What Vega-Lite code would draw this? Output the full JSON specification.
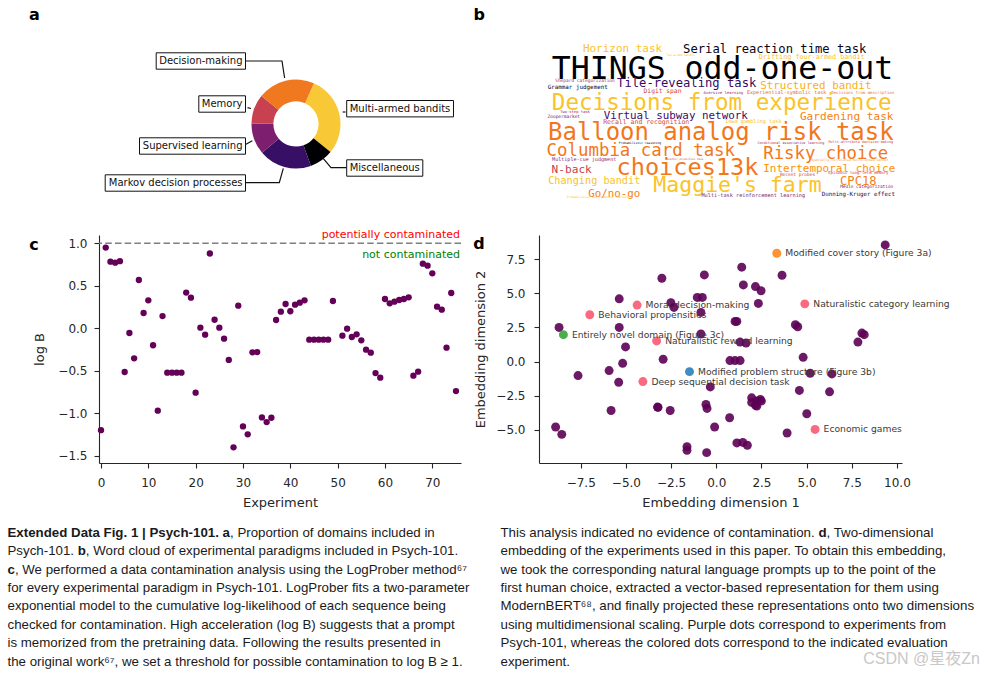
{
"$schema": "https://vega.github.io/schema/vega-lite/v6.json",
"padding": 0,
"background": "white",
"config": {
  "view": {"stroke": null, "fill": "white"},
  "font": "DejaVu Sans",
  "axis": {"labelFont": "DejaVu Sans", "labelFontSize": 12, "labelColor": "#262626", "titleFont": "DejaVu Sans", "titleFontSize": 13, "titleFontWeight": "normal", "titleColor": "#262626", "domainColor": "#262626", "tickColor": "#262626", "tickSize": 5, "domainWidth": 1.1, "tickWidth": 1.1, "grid": false, "labelFlush": false, "labelOverlap": false},
  "title": {"anchor": "start", "frame": "group", "font": "DejaVu Sans", "fontSize": 16, "fontWeight": "bold", "color": "#000000", "offset": 0, "baseline": "alphabetic"}
},
"columns": 3,
"bounds": "flush",
"spacing": {"row": 57, "column": 78},
"concat": [
  {
    "width": 1, "height": 1,
    "data": {"values": [{}]},
    "mark": {"type": "text", "text": "", "baseline": "top", "fontSize": 1}
  },
  {
    "width": 362, "height": 178,
    "title": {"text": "a", "dx": -70, "dy": 26.8},
    "layer": [
      {
        "data": {"values": [
          {"domain": "Multi-armed bandits", "share": 29.3, "k": 1},
          {"domain": "Miscellaneous", "share": 8.7, "k": 2},
          {"domain": "Markov decision processes", "share": 19.2, "k": 3},
          {"domain": "Supervised learning", "share": 11.4, "k": 4},
          {"domain": "Memory", "share": 10.6, "k": 5},
          {"domain": "Decision-making", "share": 20.8, "k": 6}
        ]},
        "mark": {"type": "arc", "outerRadius": 44.5, "innerRadius": 22.6},
        "encoding": {
          "x": {"datum": 0, "type": "quantitative", "scale": {"domain": [-4.427, 3.7079], "nice": false, "zero": false}, "axis": null},
          "y": {"datum": 0, "type": "quantitative", "scale": {"domain": [-1.2135, 2.7865], "nice": false, "zero": false}, "axis": null},
          "theta": {"field": "share", "type": "quantitative", "stack": true, "scale": {"range": [0.4136, 6.6968]}},
          "order": {"field": "k", "type": "quantitative"},
          "color": {"field": "domain", "type": "nominal", "legend": null, "scale": {"domain": ["Multi-armed bandits", "Decision-making", "Memory", "Supervised learning", "Markov decision processes", "Miscellaneous"], "range": ["#f8c837", "#f0781e", "#c84150", "#7d1e6e", "#370f64", "#000004"]}}
        }
      },
      {
        "data": {"values": [
          {"c": "DM", "i": 0, "px": -1.1348, "py": 1.4157},
          {"c": "DM", "i": 1, "px": -0.3146, "py": 1.4157},
          {"c": "DM", "i": 2, "px": -0.2562, "py": 1.0337},
          {"c": "ME", "i": 0, "px": -1.0899, "py": 0.3663},
          {"c": "ME", "i": 1, "px": -1.0112, "py": 0.3483},
          {"c": "MAB", "i": 0, "px": 1.0494, "py": 0.2697},
          {"c": "MAB", "i": 1, "px": 1.1124, "py": 0.2697},
          {"c": "SL", "i": 0, "px": -1.1236, "py": -0.4562},
          {"c": "SL", "i": 1, "px": -0.982, "py": -0.3753},
          {"c": "MDP", "i": 0, "px": -1.1348, "py": -1.3191},
          {"c": "MDP", "i": 1, "px": -0.3753, "py": -1.3191},
          {"c": "MDP", "i": 2, "px": -0.2854, "py": -0.9955},
          {"c": "MI", "i": 0, "px": 1.1393, "py": -0.982},
          {"c": "MI", "i": 1, "px": 0.7865, "py": -0.982},
          {"c": "MI", "i": 2, "px": 0.5775, "py": -0.7348}
        ]},
        "mark": {"type": "line", "color": "#111111", "strokeWidth": 1.2},
        "encoding": {
          "x": {"field": "px", "type": "quantitative", "scale": {"domain": [-4.427, 3.7079], "nice": false, "zero": false}, "axis": null},
          "y": {"field": "py", "type": "quantitative", "scale": {"domain": [-1.2135, 2.7865], "nice": false, "zero": false}, "axis": null},
          "detail": {"field": "c", "type": "nominal"},
          "order": {"field": "i", "type": "quantitative"}
        }
      },
      {
        "data": {"name": "labels", "values": [
          {"domain": "Decision-making", "side": "L", "lx": -1.1348, "ly": 1.4157},
          {"domain": "Memory", "side": "L", "lx": -1.1348, "ly": 0.4494},
          {"domain": "Supervised learning", "side": "L", "lx": -1.1348, "ly": -0.4944},
          {"domain": "Markov decision processes", "side": "L", "lx": -1.1348, "ly": -1.3258},
          {"domain": "Multi-armed bandits", "side": "R", "lx": 1.1393, "ly": 0.3438},
          {"domain": "Miscellaneous", "side": "R", "lx": 1.1393, "ly": -0.9888}
        ]},
        "layer": [
          {
            "mark": {"type": "point", "size": 4, "fill": "white", "stroke": "#111111", "strokeWidth": 1, "opacity": 1, "filled": false, "fillOpacity": 1},
            "encoding": {
              "x": {"field": "lx", "type": "quantitative", "scale": {"domain": [-4.427, 3.7079], "nice": false, "zero": false}, "axis": null},
              "y": {"field": "ly", "type": "quantitative", "scale": {"domain": [-1.2135, 2.7865], "nice": false, "zero": false}, "axis": null},
              "shape": {"field": "domain", "type": "nominal", "legend": null, "scale": {
                "domain": ["Decision-making", "Memory", "Supervised learning", "Markov decision processes", "Multi-armed bandits", "Miscellaneous"],
                "range": ["M-89.3,-8.2H0V8.2H-89.3Z", "M-46.7,-8.2H0V8.2H-46.7Z", "M-106,-8.2H0V8.2H-106Z", "M-140.3,-8.2H0V8.2H-140.3Z", "M0,-8.2H106.8V8.2H0Z", "M0,-8.2H76.1V8.2H0Z"]}}
            }
          },
          {
            "transform": [{"filter": "datum.side === 'L'"}],
            "mark": {"type": "text", "align": "right", "baseline": "middle", "dx": -3, "fontSize": 10, "font": "DejaVu Sans", "color": "#111111"},
            "encoding": {
              "x": {"field": "lx", "type": "quantitative", "scale": {"domain": [-4.427, 3.7079], "nice": false, "zero": false}, "axis": null},
              "y": {"field": "ly", "type": "quantitative", "scale": {"domain": [-1.2135, 2.7865], "nice": false, "zero": false}, "axis": null},
              "text": {"field": "domain"}
            }
          },
          {
            "transform": [{"filter": "datum.side === 'R'"}],
            "mark": {"type": "text", "align": "left", "baseline": "middle", "dx": 3, "fontSize": 10, "font": "DejaVu Sans", "color": "#111111"},
            "encoding": {
              "x": {"field": "lx", "type": "quantitative", "scale": {"domain": [-4.427, 3.7079], "nice": false, "zero": false}, "axis": null},
              "y": {"field": "ly", "type": "quantitative", "scale": {"domain": [-1.2135, 2.7865], "nice": false, "zero": false}, "axis": null},
              "text": {"field": "domain"}
            }
          }
        ]
      }
    ]
  },
  {
    "width": 363, "height": 178,
    "title": {"text": "b", "dx": -65.5, "dy": 26.8},
    "data": {"values": [
      {"w": "THINGS odd-one-out", "x": 397.8, "y": 91.9, "s": 70.6, "t": 0.0},
      {"w": "Horizon task", "x": 173.7, "y": 30.7, "s": 24.6, "t": 0.86},
      {"w": "Serial reaction time task", "x": 514.7, "y": 34.3, "s": 27.3, "t": 0.04},
      {"w": "Two-armed bandit", "x": 304.1, "y": 40.3, "s": 6.7, "t": 0.85},
      {"w": "Drifting four-armed bandit", "x": 597.6, "y": 47.1, "s": 15.2, "t": 0.86},
      {"w": "Shepard categorization", "x": 89.6, "y": 97.9, "s": 10.1, "t": 0.45},
      {"w": "Tile-revealing task", "x": 317.5, "y": 110.5, "s": 27.3, "t": 0.18},
      {"w": "Structured bandit", "x": 606.8, "y": 115, "s": 24.4, "t": 0.82},
      {"w": "Grammar judgement", "x": 73.3, "y": 115, "s": 13.2, "t": 0.05},
      {"w": "Digit span", "x": 263.3, "y": 123.9, "s": 14.1, "t": 0.56},
      {"w": "Aversive learning", "x": 399.6, "y": 125.5, "s": 8.7, "t": 0.4},
      {"w": "Experiential-symbolic task", "x": 541.6, "y": 126.2, "s": 11.4, "t": 0.64},
      {"w": "Decisions from description", "x": 712.2, "y": 126.2, "s": 9, "t": 0.68},
      {"w": "Decisions from experience", "x": 396, "y": 161.3, "s": 50.6, "t": 0.86},
      {"w": "Two-step task", "x": 67.2, "y": 167.4, "s": 8.5, "t": 0.4},
      {"w": "Zoopermarket", "x": 42.1, "y": 179.9, "s": 10.1, "t": 0.3},
      {"w": "Virtual subway network", "x": 293.1, "y": 181.5, "s": 24.4, "t": 0.2},
      {"w": "Gardening task", "x": 676.1, "y": 183.8, "s": 24.9, "t": 0.72},
      {"w": "Recall and recognition", "x": 226.8, "y": 192.7, "s": 14.6, "t": 0.58},
      {"w": "Iowa gambling task", "x": 466.8, "y": 191.2, "s": 11.7, "t": 0.85},
      {"w": "Balloon analog risk task", "x": 394, "y": 228.6, "s": 53.6, "t": 0.7},
      {"w": "Probabilistic reasoning", "x": 212.9, "y": 237.5, "s": 6.9, "t": 0.05},
      {"w": "Conditional associative learning", "x": 550.8, "y": 237.5, "s": 7.8, "t": 0.45},
      {"w": "Multi-attribute decision-making", "x": 707.7, "y": 236, "s": 7.8, "t": 0.55},
      {"w": "Columbia card task", "x": 214.7, "y": 264.4, "s": 39, "t": 0.7},
      {"w": "Risky choice", "x": 629.2, "y": 271.8, "s": 38.8, "t": 0.7},
      {"w": "Multiple-cue judgment", "x": 87.8, "y": 275, "s": 11.4, "t": 0.4},
      {"w": "Weather prediction task", "x": 313.7, "y": 273.4, "s": 6, "t": 0.55},
      {"w": "Spatially correlated multi-armed bandit", "x": 683.5, "y": 276.3, "s": 7.4, "t": 0.8},
      {"w": "choices13k", "x": 319.3, "y": 307, "s": 52.9, "t": 0.7},
      {"w": "N-back", "x": 59.8, "y": 301.8, "s": 24.9, "t": 0.54},
      {"w": "Intertemporal choice", "x": 636.9, "y": 299.6, "s": 24.6, "t": 0.76},
      {"w": "Recent probes", "x": 565.8, "y": 308.6, "s": 10.1, "t": 0.55},
      {"w": "Episodic long-term memory", "x": 702.1, "y": 305.4, "s": 9, "t": 0.55},
      {"w": "Changing bandit", "x": 110.3, "y": 327.8, "s": 22.9, "t": 0.86},
      {"w": "Maggie's farm", "x": 431.4, "y": 344.4, "s": 48.2, "t": 0.86},
      {"w": "CPC18", "x": 702.1, "y": 329.4, "s": 27.3, "t": 0.72},
      {"w": "Medin categorization", "x": 720.9, "y": 336.8, "s": 9.9, "t": 0.35},
      {"w": "Go/no-go", "x": 155.1, "y": 355.6, "s": 24.2, "t": 0.72},
      {"w": "Multi-task reinforcement learning", "x": 466.8, "y": 357, "s": 11.7, "t": 0.33},
      {"w": "Dunning-Kruger effect", "x": 702.1, "y": 353.4, "s": 13, "t": 0.1},
      {"w": "Probabilistic instrumental learning", "x": 119.4, "y": 358.5, "s": 6.7, "t": 0.85}
    ]},
    "mark": {"type": "text", "font": "DejaVu Sans Mono", "align": "center", "baseline": "alphabetic"},
    "encoding": {
      "x": {"field": "x", "type": "quantitative", "scale": {"domain": [-13.445, 800], "nice": false, "zero": false}, "axis": null},
      "y": {"field": "y", "type": "quantitative", "scale": {"domain": [-85.2, 313.7], "reverse": true, "nice": false, "zero": false}, "axis": null},
      "text": {"field": "w"},
      "size": {"field": "s", "type": "quantitative", "legend": null, "scale": {"domain": [0, 100], "range": [0, 44.625]}},
      "color": {"field": "t", "type": "quantitative", "legend": null, "scale": {"scheme": "inferno", "domain": [0, 1]}}
    }
  },
  {
    "width": 21, "height": 228,
    "data": {"values": [{}]},
    "mark": {"type": "text", "text": "", "baseline": "top", "fontSize": 1}
  },
  {
    "width": 362, "height": 228,
    "title": {"text": "c", "dx": -69.7, "dy": 28.4},
    "layer": [
      {
        "data": {"values": [
          {"exp": 0, "logB": -1.2}, {"exp": 1, "logB": 0.95}, {"exp": 2, "logB": 0.784}, {"exp": 3, "logB": 0.772}, {"exp": 4, "logB": 0.79},
          {"exp": 5, "logB": -0.515}, {"exp": 6, "logB": -0.056}, {"exp": 7, "logB": -0.354}, {"exp": 8, "logB": 0.568}, {"exp": 9, "logB": 0.18},
          {"exp": 10, "logB": 0.329}, {"exp": 11, "logB": -0.2}, {"exp": 12, "logB": -0.97}, {"exp": 13, "logB": 0.144}, {"exp": 14, "logB": -0.523},
          {"exp": 15, "logB": -0.523}, {"exp": 16, "logB": -0.523}, {"exp": 17, "logB": -0.523}, {"exp": 18, "logB": 0.42}, {"exp": 19, "logB": 0.36},
          {"exp": 20, "logB": -0.758}, {"exp": 21, "logB": 0.007}, {"exp": 22, "logB": -0.075}, {"exp": 23, "logB": 0.88}, {"exp": 24, "logB": 0.1},
          {"exp": 25, "logB": 0.007}, {"exp": 26, "logB": -0.122}, {"exp": 27, "logB": -0.373}, {"exp": 28, "logB": -1.402}, {"exp": 29, "logB": 0.266},
          {"exp": 30, "logB": -1.155}, {"exp": 31, "logB": -1.249}, {"exp": 32, "logB": -0.283}, {"exp": 33, "logB": -0.28}, {"exp": 34, "logB": -1.049},
          {"exp": 35, "logB": -1.104}, {"exp": 36, "logB": -1.053}, {"exp": 37, "logB": 0.097}, {"exp": 38, "logB": 0.195}, {"exp": 39, "logB": 0.286},
          {"exp": 40, "logB": 0.2}, {"exp": 41, "logB": 0.278}, {"exp": 42, "logB": 0.301}, {"exp": 43, "logB": 0.329}, {"exp": 44, "logB": -0.134},
          {"exp": 45, "logB": -0.134}, {"exp": 46, "logB": -0.134}, {"exp": 47, "logB": -0.134}, {"exp": 48, "logB": -0.134}, {"exp": 49, "logB": 0.321},
          {"exp": 51, "logB": -0.087}, {"exp": 52, "logB": -0.005}, {"exp": 53, "logB": -0.103}, {"exp": 54, "logB": -0.071}, {"exp": 55, "logB": -0.142},
          {"exp": 56, "logB": -0.252}, {"exp": 57, "logB": -0.287}, {"exp": 58, "logB": -0.527}, {"exp": 59, "logB": -0.582}, {"exp": 60, "logB": 0.345},
          {"exp": 61, "logB": 0.294}, {"exp": 62, "logB": 0.313}, {"exp": 63, "logB": 0.333}, {"exp": 64, "logB": 0.345}, {"exp": 65, "logB": 0.364},
          {"exp": 66, "logB": -0.558}, {"exp": 67, "logB": -0.511}, {"exp": 68, "logB": 0.76}, {"exp": 69, "logB": 0.737}, {"exp": 70, "logB": 0.647},
          {"exp": 71, "logB": 0.254}, {"exp": 72, "logB": 0.219}, {"exp": 73, "logB": -0.228}, {"exp": 74, "logB": 0.415}, {"exp": 75, "logB": -0.739}
        ]},
        "mark": {"type": "circle", "size": 40, "color": "#650059", "opacity": 1},
        "encoding": {
          "x": {"field": "exp", "type": "quantitative", "scale": {"domain": [-0.42, 76.06], "nice": false, "zero": false},
                "axis": {"values": [0, 10, 20, 30, 40, 50, 60, 70], "format": "d", "title": "Experiment", "labelPadding": 9, "titlePadding": 8}},
          "y": {"field": "logB", "type": "quantitative", "scale": {"domain": [-1.586, 1.098], "nice": false, "zero": false},
                "axis": {"values": [-1.5, -1, -0.5, 0, 0.5, 1], "format": ".1f", "title": "log B", "labelPadding": 7, "titlePadding": 11}}
        }
      },
      {
        "data": {"values": [{"thr": 1.0}]},
        "mark": {"type": "rule", "strokeDash": [6.5, 3.2], "color": "#7f7f7f", "strokeWidth": 1.5},
        "encoding": {
          "y": {"field": "thr", "type": "quantitative", "scale": {"domain": [-1.586, 1.098], "nice": false, "zero": false}}
        }
      },
      {
        "data": {"values": [{"label": "potentially contaminated", "lx": 75.85, "ly": 1.0}]},
        "mark": {"type": "text", "align": "right", "baseline": "alphabetic", "dy": -5.5, "fontSize": 11, "color": "#ff0000"},
        "encoding": {
          "x": {"field": "lx", "type": "quantitative", "scale": {"domain": [-0.42, 76.06], "nice": false, "zero": false}},
          "y": {"field": "ly", "type": "quantitative", "scale": {"domain": [-1.586, 1.098], "nice": false, "zero": false}},
          "text": {"field": "label"}
        }
      },
      {
        "data": {"values": [{"label": "not contaminated", "lx": 75.85, "ly": 1.0}]},
        "mark": {"type": "text", "align": "right", "baseline": "alphabetic", "dy": 15, "fontSize": 11, "color": "#008000"},
        "encoding": {
          "x": {"field": "lx", "type": "quantitative", "scale": {"domain": [-0.42, 76.06], "nice": false, "zero": false}},
          "y": {"field": "ly", "type": "quantitative", "scale": {"domain": [-1.586, 1.098], "nice": false, "zero": false}},
          "text": {"field": "label"}
        }
      }
    ]
  },
  {
    "width": 363, "height": 228,
    "title": {"text": "d", "dx": -65.7, "dy": 21.3},
    "layer": [
      {
        "data": {"values": [
          {"e1": 9.35, "e2": 8.55}, {"e1": 1.41, "e2": 6.92}, {"e1": 3.64, "e2": 6.33}, {"e1": -0.66, "e2": 6.35}, {"e1": -3.01, "e2": 6.11},
          {"e1": 1.5, "e2": 5.62}, {"e1": 2.17, "e2": 5.5}, {"e1": 2.48, "e2": 5.19}, {"e1": -5.37, "e2": 4.6}, {"e1": -1.05, "e2": 4.7},
          {"e1": -0.77, "e2": 4.7}, {"e1": -2.51, "e2": 4.32}, {"e1": -2.34, "e2": 3.97}, {"e1": 2.33, "e2": 4.26}, {"e1": -0.85, "e2": 3.6},
          {"e1": -8.7, "e2": 2.5}, {"e1": -5.37, "e2": 2.5}, {"e1": 1.04, "e2": 2.94}, {"e1": 1.14, "e2": 2.94}, {"e1": 4.38, "e2": 2.7},
          {"e1": 4.51, "e2": 2.55}, {"e1": -0.85, "e2": 2.02}, {"e1": 8.06, "e2": 2.09}, {"e1": 8.19, "e2": 1.97}, {"e1": 7.84, "e2": 1.43},
          {"e1": 1.32, "e2": 1.43}, {"e1": 1.65, "e2": 1.36}, {"e1": -5.02, "e2": 1.07}, {"e1": -2.94, "e2": 0.17}, {"e1": 0.76, "e2": 0.07},
          {"e1": 1.04, "e2": 0.07}, {"e1": 1.32, "e2": 0.07}, {"e1": 4.81, "e2": 0.31}, {"e1": -5.18, "e2": -0.13}, {"e1": -5.93, "e2": -0.66},
          {"e1": -7.65, "e2": -1.03}, {"e1": -5.4, "e2": -1.52}, {"e1": 5.2, "e2": -0.86}, {"e1": 6.4, "e2": -0.91}, {"e1": -0.33, "e2": -1.86},
          {"e1": 4.6, "e2": -2.12}, {"e1": 6.27, "e2": -2.22}, {"e1": 1.96, "e2": -2.66}, {"e1": 2.24, "e2": -2.9}, {"e1": 2.44, "e2": -2.78},
          {"e1": 2.17, "e2": -3.2}, {"e1": 1.96, "e2": -3.0}, {"e1": 2.5, "e2": -2.9}, {"e1": 2.24, "e2": -3.27}, {"e1": -3.25, "e2": -3.34},
          {"e1": -3.22, "e2": -3.36}, {"e1": -2.55, "e2": -3.59}, {"e1": -5.82, "e2": -3.59}, {"e1": -0.57, "e2": -3.15}, {"e1": -0.51, "e2": -3.44},
          {"e1": 0.74, "e2": -4.12}, {"e1": 5.01, "e2": -3.83}, {"e1": -8.89, "e2": -4.8}, {"e1": -8.55, "e2": -5.34}, {"e1": -0.09, "e2": -4.8},
          {"e1": 3.92, "e2": -5.24}, {"e1": 1.14, "e2": -5.97}, {"e1": 1.47, "e2": -5.93}, {"e1": 1.72, "e2": -6.14}, {"e1": -1.62, "e2": -6.24},
          {"e1": -1.62, "e2": -6.51}, {"e1": -0.53, "e2": -6.68}
        ]},
        "mark": {"type": "circle", "size": 80, "color": "#5c0055", "opacity": 0.9},
        "encoding": {
          "x": {"field": "e1", "type": "quantitative", "scale": {"domain": [-9.81, 10.28], "nice": false, "zero": false},
                "axis": {"values": [-7.5, -5, -2.5, 0, 2.5, 5, 7.5, 10], "format": ".1f", "title": "Embedding dimension 1", "labelPadding": 9, "titlePadding": 8}},
          "y": {"field": "e2", "type": "quantitative", "scale": {"domain": [-7.44, 9.28], "nice": false, "zero": false},
                "axis": {"values": [-5, -2.5, 0, 2.5, 5, 7.5], "format": ".1f", "title": "Embedding dimension 2", "labelPadding": 9, "titlePadding": 8}}
        }
      },
      {
        "data": {"name": "evals", "values": [
          {"name": "Modified cover story (Figure 3a)", "e1": 3.35, "e2": 7.94, "grp": "3a"},
          {"name": "Naturalistic category learning", "e1": 4.9, "e2": 4.23, "grp": "other"},
          {"name": "Moral decision-making", "e1": -4.38, "e2": 4.14, "grp": "other"},
          {"name": "Behavioral propensities", "e1": -7.0, "e2": 3.43, "grp": "other"},
          {"name": "Entirely novel domain (Figure 3c)", "e1": -8.46, "e2": 1.97, "grp": "3c"},
          {"name": "Naturalistic reward learning", "e1": -3.3, "e2": 1.51, "grp": "other"},
          {"name": "Modified problem structure (Figure 3b)", "e1": -1.48, "e2": -0.74, "grp": "3b"},
          {"name": "Deep sequential decision task", "e1": -4.06, "e2": -1.47, "grp": "other"},
          {"name": "Economic games", "e1": 5.47, "e2": -4.98, "grp": "other"}
        ]},
        "layer": [
          {
            "mark": {"type": "circle", "size": 80, "opacity": 0.85},
            "encoding": {
              "x": {"field": "e1", "type": "quantitative", "scale": {"domain": [-9.81, 10.28], "nice": false, "zero": false}},
              "y": {"field": "e2", "type": "quantitative", "scale": {"domain": [-7.44, 9.28], "nice": false, "zero": false}},
              "color": {"field": "grp", "type": "nominal", "legend": null, "scale": {"domain": ["3a", "3b", "3c", "other"], "range": ["#ff7f0e", "#1f77b4", "#2ca02c", "#f8506a"]}}
            }
          },
          {
            "mark": {"type": "text", "align": "left", "baseline": "middle", "dx": 8.5, "fontSize": 9.2, "font": "DejaVu Sans", "color": "#3a3a3a"},
            "encoding": {
              "x": {"field": "e1", "type": "quantitative", "scale": {"domain": [-9.81, 10.28], "nice": false, "zero": false}},
              "y": {"field": "e2", "type": "quantitative", "scale": {"domain": [-7.44, 9.28], "nice": false, "zero": false}},
              "text": {"field": "name"}
            }
          }
        ]
      }
    ]
  },
  {
    "width": 21, "height": 155,
    "data": {"values": [
      {"col": "L", "line": 1, "seg": "b0", "text": "Extended Data Fig. 1 | Psych-101. a"},
      {"col": "L", "line": 1, "seg": "r1", "text": ", Proportion of domains included in"},
      {"col": "L", "line": 2, "seg": "r0", "text": "Psych-101. "},
      {"col": "L", "line": 2, "seg": "b2", "text": "b"},
      {"col": "L", "line": 2, "seg": "r2", "text": ", Word cloud of experimental paradigms included in Psych-101."},
      {"col": "L", "line": 3, "seg": "b0", "text": "c"},
      {"col": "L", "line": 3, "seg": "r3", "text": ", We performed a data contamination analysis using the LogProber method⁶⁷"},
      {"col": "L", "line": 4, "seg": "r0", "text": "for every experimental paradigm in Psych-101. LogProber fits a two-parameter"},
      {"col": "L", "line": 5, "seg": "r0", "text": "exponential model to the cumulative log-likelihood of each sequence being"},
      {"col": "L", "line": 6, "seg": "r0", "text": "checked for contamination. High acceleration (log B) suggests that a prompt"},
      {"col": "L", "line": 7, "seg": "r0", "text": "is memorized from the pretraining data. Following the results presented in"},
      {"col": "L", "line": 8, "seg": "r0", "text": "the original work⁶⁷, we set a threshold for possible contamination to log B ≥ 1."},
      {"col": "R", "line": 1, "seg": "r0", "text": "This analysis indicated no evidence of contamination. "},
      {"col": "R", "line": 1, "seg": "b4", "text": "d"},
      {"col": "R", "line": 1, "seg": "r4", "text": ", Two-dimensional"},
      {"col": "R", "line": 2, "seg": "r0", "text": "embedding of the experiments used in this paper. To obtain this embedding,"},
      {"col": "R", "line": 3, "seg": "r0", "text": "we took the corresponding natural language prompts up to the point of the"},
      {"col": "R", "line": 4, "seg": "r0", "text": "first human choice, extracted a vector-based representation for them using"},
      {"col": "R", "line": 5, "seg": "r0", "text": "ModernBERT⁶⁸, and finally projected these representations onto two dimensions"},
      {"col": "R", "line": 6, "seg": "r0", "text": "using multidimensional scaling. Purple dots correspond to experiments from"},
      {"col": "R", "line": 7, "seg": "r0", "text": "Psych-101, whereas the colored dots correspond to the indicated evaluation"},
      {"col": "R", "line": 8, "seg": "r0", "text": "experiment."}
    ]},
    "encoding": {
      "x": {"field": "col", "type": "nominal", "scale": {"type": "point", "domain": ["L", "R"], "range": [7.5, 500.5], "padding": 0}, "axis": null},
      "y": {"field": "line", "type": "quantitative", "scale": {"domain": [0.3, 8.724], "reverse": true, "nice": false, "zero": false}, "axis": null},
      "text": {"field": "text"}
    },
    "layer": [
      {"transform": [{"filter": "datum.seg === 'r0'"}], "mark": {"type": "text", "font": "Liberation Sans", "fontSize": 13.3, "color": "#1a1a1a", "align": "left", "baseline": "middle"}},
      {"transform": [{"filter": "datum.seg === 'b0'"}], "mark": {"type": "text", "font": "Liberation Sans", "fontSize": 13.3, "fontWeight": "bold", "color": "#1a1a1a", "align": "left", "baseline": "middle"}},
      {"transform": [{"filter": "datum.seg === 'r1'"}], "mark": {"type": "text", "font": "Liberation Sans", "fontSize": 13.3, "color": "#1a1a1a", "align": "left", "baseline": "middle", "dx": 222.5}},
      {"transform": [{"filter": "datum.seg === 'b2'"}], "mark": {"type": "text", "font": "Liberation Sans", "fontSize": 13.3, "fontWeight": "bold", "color": "#1a1a1a", "align": "left", "baseline": "middle", "dx": 70.2}},
      {"transform": [{"filter": "datum.seg === 'r2'"}], "mark": {"type": "text", "font": "Liberation Sans", "fontSize": 13.3, "color": "#1a1a1a", "align": "left", "baseline": "middle", "dx": 78.35}},
      {"transform": [{"filter": "datum.seg === 'r3'"}], "mark": {"type": "text", "font": "Liberation Sans", "fontSize": 13.3, "color": "#1a1a1a", "align": "left", "baseline": "middle", "dx": 7.39}},
      {"transform": [{"filter": "datum.seg === 'b4'"}], "mark": {"type": "text", "font": "Liberation Sans", "fontSize": 13.3, "fontWeight": "bold", "color": "#1a1a1a", "align": "left", "baseline": "middle", "dx": 317.9}},
      {"transform": [{"filter": "datum.seg === 'r4'"}], "mark": {"type": "text", "font": "Liberation Sans", "fontSize": 13.3, "color": "#1a1a1a", "align": "left", "baseline": "middle", "dx": 326.05}},
      {
        "data": {"values": [{"wm": "CSDN @星夜Zn", "col": "R", "line": 7.85}]},
        "mark": {"type": "text", "font": "Liberation Sans, Noto Sans CJK SC", "fontSize": 16, "color": "#c8c8c8", "align": "right", "baseline": "middle", "dx": 479.5},
        "encoding": {"text": {"field": "wm"}}
      }
    ]
  },
  {
    "width": 1, "height": 1,
    "data": {"values": [{}]},
    "mark": {"type": "text", "text": "", "baseline": "top", "fontSize": 1}
  },
  {
    "width": 1, "height": 1,
    "data": {"values": [{}]},
    "mark": {"type": "text", "text": "", "baseline": "top", "fontSize": 1}
  }
]
}
